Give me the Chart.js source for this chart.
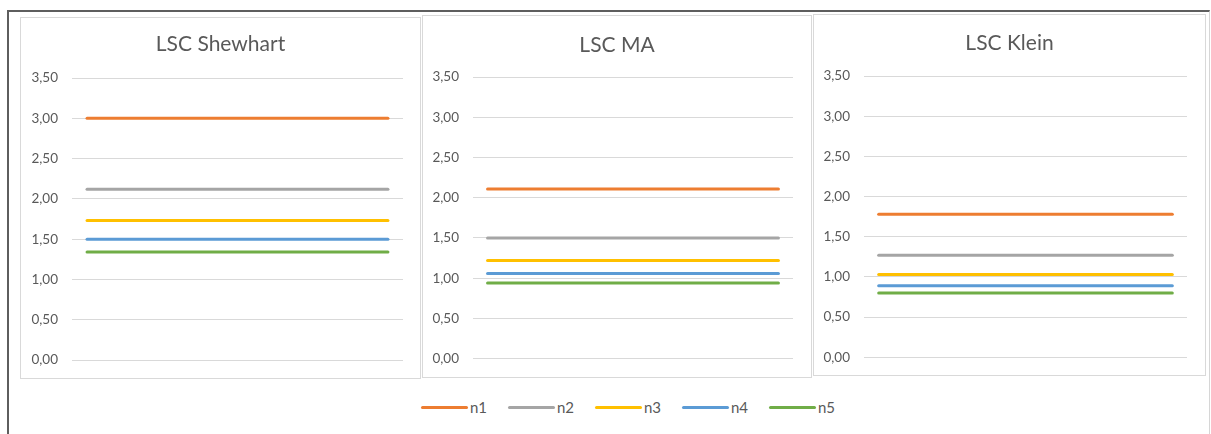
<!DOCTYPE html>
<html>
<head>
<meta charset="utf-8">
<script src="https://cdn.jsdelivr.net/npm/chart.js@4/dist/chart.umd.min.js"></script>
<style>
  body { margin: 0; background: #fff; width: 1211px; height: 434px; overflow: hidden; position: relative; font-family: Lato, "Open Sans", sans-serif; }
  .frame { position: absolute; left: 7px; top: 10px; width: 1200px; height: 500px;
           border-left: 2px solid #5e5e5e; border-top: 2px solid #5e5e5e; border-right: 1px solid #d6d6d6; }
  .panel { position: absolute; border: 1px solid #d9d9d9; background: #fff; }
  .panel canvas { display: block; }
  .legend { position: absolute; left: 421px; top: 397px; height: 20px; display: flex; align-items: center; }
  .legend .item { width: 87px; display: flex; align-items: center; }
  .legend .swatch { width: 47px; height: 3px; border-radius: 2px; }
  .legend .name { margin-left: 2px; font-size: 15px; color: #595959; }
</style>
</head>
<body>
<div class="frame"></div>
<div id="p0" class="panel"><canvas id="c0"></canvas></div>
<div id="p1" class="panel"><canvas id="c1"></canvas></div>
<div id="p2" class="panel"><canvas id="c2"></canvas></div>
<div id="legend" class="legend"></div>

<script>
// samples along x (limits are constant over the samples)
const samples = ['1', '2', '3', '4', '5', '6', '7', '8', '9', '10', '11'];

const seriesNames = ['n1', 'n2', 'n3', 'n4', 'n5'];
const seriesColors = ['#ED7D31', '#A5A5A5', '#FFC000', '#5B9BD5', '#70AD47'];

const chartTitles = ['LSC Shewhart', 'LSC MA', 'LSC Klein'];

const yTicks = [0, 0.5, 1, 1.5, 2, 2.5, 3, 3.5];

// LSC Shewhart
const shewhartN1 = [3.00, 3.00, 3.00, 3.00, 3.00, 3.00, 3.00, 3.00, 3.00, 3.00, 3.00];
const shewhartN2 = [2.12, 2.12, 2.12, 2.12, 2.12, 2.12, 2.12, 2.12, 2.12, 2.12, 2.12];
const shewhartN3 = [1.73, 1.73, 1.73, 1.73, 1.73, 1.73, 1.73, 1.73, 1.73, 1.73, 1.73];
const shewhartN4 = [1.50, 1.50, 1.50, 1.50, 1.50, 1.50, 1.50, 1.50, 1.50, 1.50, 1.50];
const shewhartN5 = [1.34, 1.34, 1.34, 1.34, 1.34, 1.34, 1.34, 1.34, 1.34, 1.34, 1.34];

// LSC MA
const maN1 = [2.11, 2.11, 2.11, 2.11, 2.11, 2.11, 2.11, 2.11, 2.11, 2.11, 2.11];
const maN2 = [1.50, 1.50, 1.50, 1.50, 1.50, 1.50, 1.50, 1.50, 1.50, 1.50, 1.50];
const maN3 = [1.22, 1.22, 1.22, 1.22, 1.22, 1.22, 1.22, 1.22, 1.22, 1.22, 1.22];
const maN4 = [1.06, 1.06, 1.06, 1.06, 1.06, 1.06, 1.06, 1.06, 1.06, 1.06, 1.06];
const maN5 = [0.94, 0.94, 0.94, 0.94, 0.94, 0.94, 0.94, 0.94, 0.94, 0.94, 0.94];

// LSC Klein
const kleinN1 = [1.78, 1.78, 1.78, 1.78, 1.78, 1.78, 1.78, 1.78, 1.78, 1.78, 1.78];
const kleinN2 = [1.27, 1.27, 1.27, 1.27, 1.27, 1.27, 1.27, 1.27, 1.27, 1.27, 1.27];
const kleinN3 = [1.03, 1.03, 1.03, 1.03, 1.03, 1.03, 1.03, 1.03, 1.03, 1.03, 1.03];
const kleinN4 = [0.89, 0.89, 0.89, 0.89, 0.89, 0.89, 0.89, 0.89, 0.89, 0.89, 0.89];
const kleinN5 = [0.80, 0.80, 0.80, 0.80, 0.80, 0.80, 0.80, 0.80, 0.80, 0.80, 0.80];

const chartSeries = [
    [shewhartN1, shewhartN2, shewhartN3, shewhartN4, shewhartN5],
    [maN1, maN2, maN3, maN4, maN5],
    [kleinN1, kleinN2, kleinN3, kleinN4, kleinN5]
];

// panel boxes and inner spacing (px)
const panels = [
    { left: 20,  top: 17, w: 399, h: 360, axisW: 51, padR: 17, padB: 18,   titleTop: 13.9, titleBottom: 20.9 },
    { left: 422, top: 15, w: 388, h: 361, axisW: 50, padR: 18, padB: 18.3, titleTop: 16.4, titleBottom: 19.4 },
    { left: 813, top: 14, w: 391, h: 360, axisW: 50, padR: 18, padB: 17.7, titleTop: 15.9, titleBottom: 19.9 }
];

const grey = '#595959';
const fontFamily = 'Lato, "Open Sans", sans-serif';

panels.forEach((p, i) => {
    const box = document.getElementById('p' + i);
    box.style.left = p.left + 'px';
    box.style.top = p.top + 'px';

    const canvas = document.getElementById('c' + i);
    canvas.width = p.w;
    canvas.height = p.h;

    new Chart(canvas, {
        type: 'line',
        data: {
            labels: samples,
            datasets: chartSeries[i].map((values, k) => ({
                label: seriesNames[k],
                data: values,
                borderColor: seriesColors[k],
                backgroundColor: seriesColors[k],
                borderWidth: 3,
                borderCapStyle: 'round',
                pointRadius: 0,
                fill: false
            }))
        },
        options: {
            responsive: false,
            animation: false,
            layout: { padding: { left: 0, right: 0, top: 0, bottom: p.padB } },
            plugins: {
                legend: { display: false },
                tooltip: { enabled: false },
                title: {
                    display: true,
                    text: chartTitles[i],
                    color: grey,
                    font: { family: fontFamily, size: 21, weight: 'normal' },
                    padding: { top: p.titleTop, bottom: p.titleBottom }
                }
            },
            scales: {
                x: {
                    display: false,
                    offset: true
                },
                y: {
                    min: 0,
                    max: 3.5,
                    afterBuildTicks: scale => { scale.ticks = yTicks.map(v => ({ value: v })); },
                    afterFit: scale => {
                        scale.width = p.axisW;
                        // the bottom label fits inside the layout padding already
                        scale.paddingBottom = 0;
                    },
                    border: { display: false },
                    grid: { color: '#D9D9D9', lineWidth: 1, drawTicks: false },
                    ticks: {
                        padding: 14,
                        color: grey,
                        font: { family: fontFamily, size: 13.5 },
                        callback: v => v.toFixed(2).replace('.', ',')
                    }
                },
                // empty right-hand gutter so the title stays centred on the panel
                gutter: {
                    position: 'right',
                    afterFit: scale => { scale.width = p.padR; },
                    border: { display: false },
                    grid: { display: false },
                    ticks: { display: false }
                }
            }
        }
    });
});

// shared legend under the three panels
const legend = document.getElementById('legend');
seriesNames.forEach((name, k) => {
    const item = document.createElement('div');
    item.className = 'item';
    const swatch = document.createElement('span');
    swatch.className = 'swatch';
    swatch.style.background = seriesColors[k];
    const text = document.createElement('span');
    text.className = 'name';
    text.textContent = name;
    item.appendChild(swatch);
    item.appendChild(text);
    legend.appendChild(item);
});
</script>
</body>
</html>
